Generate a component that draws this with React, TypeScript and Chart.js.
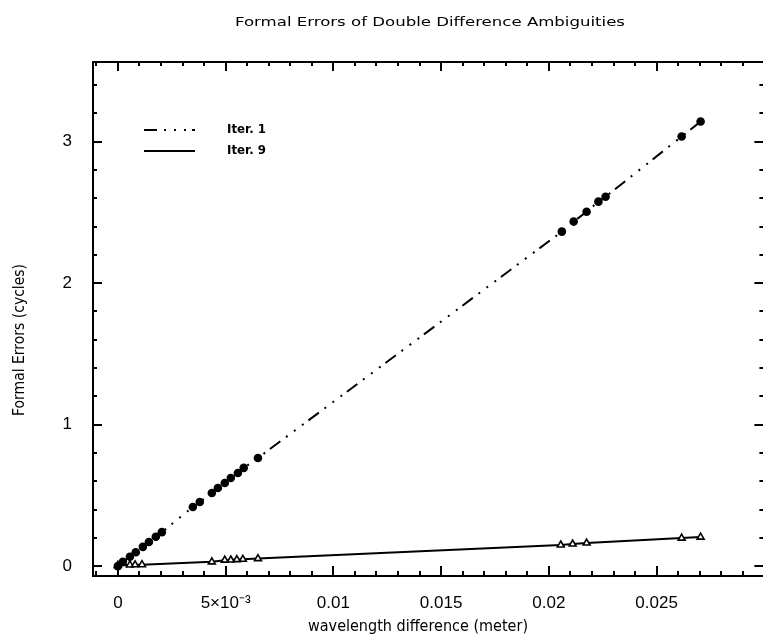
import React, { useEffect, useRef } from "react";
import { Chart, registerables } from "chart.js";

Chart.register(...registerables);

const CHART_TITLE = "Formal Errors of Double Difference Ambiguities";
const X_TITLE = "wavelength difference (meter)";
const Y_TITLE = "Formal Errors (cycles)";
const SERIES_NAMES = ["Iter. 1", "Iter. 9"];

// Iteration 1: formal error vs. wavelength difference
const iter1X = [
  0, 0.00023, 0.00056, 0.00083, 0.00116, 0.00144, 0.00176, 0.00204,
  0.00348, 0.0038, 0.00436, 0.00464, 0.00496, 0.00524, 0.00557, 0.00584, 0.0065,
  0.0206, 0.02115, 0.02175, 0.0223, 0.02263, 0.02616, 0.02704,
];
const iter1Y = [
  0, 0.03, 0.066, 0.098, 0.136, 0.17, 0.207, 0.24,
  0.418, 0.453, 0.517, 0.552, 0.587, 0.623, 0.658, 0.694, 0.764,
  2.364, 2.435, 2.505, 2.576, 2.611, 3.036, 3.142,
];

// Iteration 9
const iter9X = [
  0, 0.00056, 0.0008, 0.00112,
  0.00436, 0.00496, 0.00524, 0.00552, 0.0058, 0.0065,
  0.02055, 0.0211, 0.02175, 0.02616, 0.02704,
];
const iter9Y = [
  0.005, 0.008, 0.009, 0.01,
  0.03, 0.042, 0.043, 0.046, 0.048, 0.053,
  0.149, 0.156, 0.163, 0.198, 0.205,
];

const xTickValues = [0, 0.005, 0.01, 0.015, 0.02, 0.025];
const xTickLabels = ["0", "5×10⁻³", "0.01", "0.015", "0.02", "0.025"];
const yTickValues = [0, 1, 2, 3];
const yTickLabels = ["0", "1", "2", "3"];

const X_MIN = -0.0012;
const X_MAX = 0.03;
const X_MINOR_STEP = 0.001;
const Y_MIN = -0.07;
const Y_MAX = 3.57;
const Y_MINOR_STEP = 0.2;

const DASH_DOT3 = [13, 7, 2, 8, 2, 8, 2, 6];
const TICK_FONT = "Liberation Sans";
const TEXT_FONT = "DejaVu Sans";

// Draws text stretched horizontally to a given width (wide plotter-style lettering)
function wideText(
  ctx: CanvasRenderingContext2D,
  text: string,
  x: number,
  y: number,
  width: number,
  align: "center" | "left"
) {
  const w = ctx.measureText(text).width;
  const sx = width / w;
  ctx.save();
  ctx.textAlign = "left";
  ctx.textBaseline = "middle";
  const start = align === "center" ? x - width / 2 : x;
  ctx.translate(start, y);
  ctx.scale(sx, 1);
  ctx.fillText(text, 0, 0);
  ctx.restore();
}

function minorValues(min: number, max: number, step: number) {
  const out: number[] = [];
  for (let i = Math.ceil(min / step - 1e-9); i * step <= max + 1e-12; i++) {
    out.push(Math.round(i * step * 1e9) / 1e9);
  }
  return out;
}

const framePlugin = {
  id: "frameTicks",
  beforeDatasetsDraw(chart: any) {
    const { ctx, chartArea: a, scales } = chart;
    const xs = scales.x;
    const ys = scales.y;
    ctx.save();
    ctx.strokeStyle = "#000";
    ctx.lineWidth = 2;
    ctx.strokeRect(a.left + 1, a.top + 1, a.right - a.left - 1, a.bottom - a.top - 1);
    ctx.beginPath();
    for (const v of minorValues(X_MIN, X_MAX, X_MINOR_STEP)) {
      const major = xTickValues.some((t) => Math.abs(t - v) < 1e-9);
      const len = major ? 10 : 5;
      const px = Math.round(xs.getPixelForValue(v));
      ctx.moveTo(px, a.bottom);
      ctx.lineTo(px, a.bottom - len);
      ctx.moveTo(px, a.top);
      ctx.lineTo(px, a.top + len);
    }
    for (const v of minorValues(Y_MIN, Y_MAX, Y_MINOR_STEP)) {
      const major = yTickValues.some((t) => Math.abs(t - v) < 1e-9);
      const len = major ? 10 : 5;
      const py = Math.round(ys.getPixelForValue(v));
      ctx.moveTo(a.left, py);
      ctx.lineTo(a.left + len, py);
      ctx.moveTo(a.right, py);
      ctx.lineTo(a.right - len, py);
    }
    ctx.stroke();
    ctx.restore();
  },
};

const textPlugin = {
  id: "labelsAndKey",
  afterDraw(chart: any) {
    const { ctx } = chart;
    ctx.save();
    ctx.fillStyle = "#000";

    ctx.font = `13px "${TEXT_FONT}"`;
    wideText(ctx, CHART_TITLE, 430, 23, 390, "center");

    ctx.font = `15px "${TEXT_FONT}"`;
    wideText(ctx, X_TITLE, 418, 627, 220, "center");

    ctx.save();
    ctx.translate(20, 340);
    ctx.rotate(-Math.PI / 2);
    wideText(ctx, Y_TITLE, 0, 0, 152, "center");
    ctx.restore();

    // key
    ctx.strokeStyle = "#000";
    ctx.lineWidth = 2;
    ctx.setLineDash(DASH_DOT3);
    ctx.beginPath();
    ctx.moveTo(144, 130);
    ctx.lineTo(195, 130);
    ctx.stroke();
    ctx.setLineDash([]);
    ctx.beginPath();
    ctx.moveTo(144, 151);
    ctx.lineTo(195, 151);
    ctx.stroke();

    ctx.font = `bold 13px "${TEXT_FONT}"`;
    wideText(ctx, SERIES_NAMES[0], 227, 130, 39, "left");
    wideText(ctx, SERIES_NAMES[1], 227, 151, 39, "left");
    ctx.restore();
  },
};

export default function App() {
  const ref = useRef<HTMLCanvasElement>(null);

  useEffect(() => {
    if (!ref.current) return;
    const chart = new Chart(ref.current, {
      type: "scatter",
      data: {
        datasets: [
          {
            label: SERIES_NAMES[0],
            data: iter1X.map((x, i) => ({ x, y: iter1Y[i] })),
            showLine: true,
            borderColor: "#000",
            borderWidth: 2,
            borderDash: DASH_DOT3,
            pointStyle: "circle",
            pointRadius: 4.3,
            pointBackgroundColor: "#000",
            pointBorderWidth: 0,
          },
          {
            label: SERIES_NAMES[1],
            data: iter9X.map((x, i) => ({ x, y: iter9Y[i] })),
            showLine: true,
            borderColor: "#000",
            borderWidth: 2,
            pointStyle: "triangle",
            pointRadius: 4,
            pointBackgroundColor: "#fff",
            pointBorderColor: "#000",
            pointBorderWidth: 1.6,
          },
        ],
      },
      options: {
        responsive: false,
        animation: false,
        events: [],
        layout: { padding: { top: 61, right: 5, left: 0, bottom: 0 } },
        plugins: {
          legend: { display: false },
          tooltip: { enabled: false },
          title: { display: false },
        },
        scales: {
          x: {
            type: "linear",
            min: X_MIN,
            max: X_MAX,
            grid: { display: false },
            border: { display: false },
            afterBuildTicks: (s: any) => {
              s.ticks = xTickValues.map((value) => ({ value }));
            },
            afterFit: (s: any) => {
              s.height = 59;
            },
            ticks: {
              autoSkip: false,
              maxRotation: 0,
              padding: 9,
              color: "#000",
              font: { family: TICK_FONT, size: 17 },
              callback: (v: any) => {
                const i = xTickValues.findIndex((t) => Math.abs(t - v) < 1e-12);
                return i >= 0 ? xTickLabels[i] : "";
              },
            },
          },
          y: {
            type: "linear",
            min: Y_MIN,
            max: Y_MAX,
            grid: { display: false },
            border: { display: false },
            afterBuildTicks: (s: any) => {
              s.ticks = yTickValues.map((value) => ({ value }));
            },
            afterFit: (s: any) => {
              s.width = 92;
            },
            ticks: {
              autoSkip: false,
              padding: 12,
              color: "#000",
              font: { family: TICK_FONT, size: 17 },
              callback: (v: any) => {
                const i = yTickValues.findIndex((t) => Math.abs(t - v) < 1e-12);
                return i >= 0 ? yTickLabels[i] : "";
              },
            },
          },
        },
      },
      plugins: [framePlugin, textPlugin],
    });
    return () => chart.destroy();
  }, []);

  return (
    <div
      style={{
        position: "fixed",
        left: 0,
        top: 0,
        width: 763,
        height: 635,
        overflow: "hidden",
        background: "#fff",
      }}
    >
      <canvas ref={ref} width={770} height={635} style={{ display: "block" }} />
    </div>
  );
}
